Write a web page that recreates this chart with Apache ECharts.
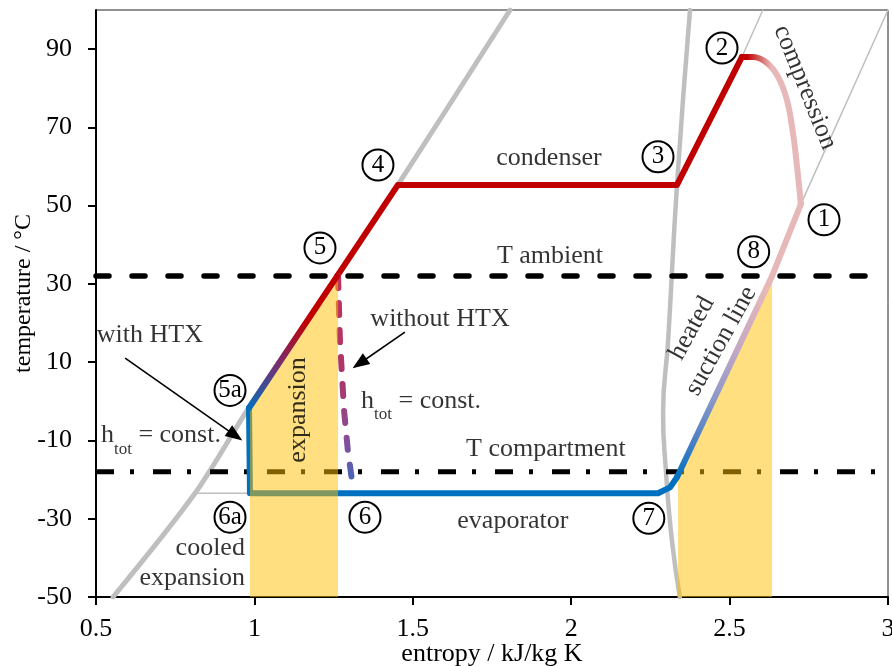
<!DOCTYPE html>
<html>
<head>
<meta charset="utf-8">
<script src="https://cdn.jsdelivr.net/npm/echarts@6/dist/echarts.min.js"></script>
<style>
  html, body { margin: 0; padding: 0; background: #fff; }
  #chart { width: 892px; height: 666px; }
</style>
</head>
<body>
<div id="chart"></div>
<script>
// T-s diagram of a refrigeration cycle (s in kJ/kg K, T in °C)

// saturation dome and auxiliary isolines
const liquidLine = [[0.554, -50], [0.8125, -23.5], [0.98, -1.9], [1.261, 32], [1.453, 55.3], [1.807, 100]];
const vaporLine = [[2.343, -50], [2.318, -35.6], [2.299, -17.7], [2.290, -3.1], [2.306, 15.6], [2.334, 55.3], [2.375, 100]];
const highIsobar = [[2.539, 88.0], [2.605, 100]];
const lowIsobar = [[2.725, 50.4], [3.0, 100]];
const evapIsotherm = [[0.8125, -23.5], [0.986, -23.5]];

// cycle with internal heat exchanger
const compression = [[2.725, 50.4], [2.713, 59.9], [2.700, 68.6], [2.681, 77.0], [2.653, 82.9], [2.618, 86.5], [2.574, 88.0], [2.539, 88.0]];
const condensation = [[2.539, 88.0], [2.334, 55.3], [1.453, 55.3], [1.261, 32]];
const precooling = [[1.261, 32], [0.983, -1.7]];
const evaporation = [[0.983, -1.7], [0.986, -23.5], [2.274, -23.5], [2.312, -22.0], [2.334, -19.4]];
const suctionLine = [[2.334, -19.4], [2.634, 32], [2.725, 50.4]];
// isenthalpic throttling without heat exchanger
const throttling = [[1.264, 32], [1.270, 15.6], [1.283, -2.3], [1.295, -12.6], [1.311, -21.9]];

// heat exchanged in the HTX
const expansionArea = [[0.986, -1.3], [1.264, 32.3]];
const suctionArea = [[2.337, -18.8], [2.634, 32]];

// boundary temperatures
const T_AMBIENT = 32;
const T_COMPARTMENT = -18;

// state points
const stateNames = ['1', '2', '3', '4', '5', '5a', '6', '6a', '7', '8'];
const statePos = [[2.798, 46.4], [2.476, 90.3], [2.274, 62.5], [1.390, 60.4], [1.207, 39.2],
                  [0.923, 2.8], [1.349, -29.6], [0.923, -29.6], [2.245, -29.9], [2.576, 38.2]];

// annotations: text, position, rotation
const noteTexts = ['condenser', 'T ambient', 'without HTX', 'with HTX', '{a|h}{s|tot}{a| = const.}',
                   '{a|h}{s|tot}{a| = const.}', 'expansion', 'T compartment', 'evaporator',
                   'compression', 'heated', 'suction line'];
const notePos = [[1.930, 62.2], [1.933, 37.0], [1.586, 21.0], [0.670, 16.9], [1.526, -1.0],
                 [0.705, -9.9], [1.138, -2.2], [1.920, -12.2], [1.816, -30.6],
                 [2.738, 80.2], [2.381, 18.7], [2.473, 15.4]];
const noteRotate = [0, 0, 0, 0, 0, 0, 90, 0, 0, -68, 61, 61];
const rightNotes = ['cooled', 'expansion'];
const rightNotePos = [[0.970, -37.5], [0.970, -45.2]];

// pointer arrows
const arrows = [[[0.592, 11.05], [0.940, -8.75]], [[1.475, 17.7], [1.332, 9.67]]];

const xTicks = [0.5, 1, 1.5, 2, 2.5, 3];
const yTicks = [-50, -30, -10, 10, 30, 50, 70, 90];

const FONT = 'Liberation Serif';
const RED = '#C00000';
const BLUE = '#0070C0';
const PINK = '#E6B9B8';
const GREY = '#BFBFBF';
const FILL = 'rgba(255,192,0,0.5)';

function vGrad(stops) {
  return { type: 'linear', x: 0, y: 0, x2: 0, y2: 1,
    colorStops: stops.map(s => ({ offset: s[0], color: s[1] })) };
}
function hGrad(stops) {
  return { type: 'linear', x: 0, y: 0, x2: 1, y2: 0,
    colorStops: stops.map(s => ({ offset: s[0], color: s[1] })) };
}
function curve(data, color, width, z, extra) {
  return Object.assign({
    type: 'line', data: data, symbol: 'none', z: z, silent: true,
    lineStyle: { color: color, width: width, cap: 'round', join: 'round' }
  }, extra || {});
}

const throttleColor = vGrad([[0, '#C3305A'], [0.5, '#A8386C'], [0.75, '#8A4C96'], [1, '#3A6CC0']]);

const chart = echarts.init(document.getElementById('chart'));
chart.setOption({
  animation: false,
  grid: { left: 96, right: 4, top: 10, bottom: 69, show: true, borderColor: '#222', borderWidth: 1,
          containLabel: false, outerBoundsMode: 'none' },
  xAxis: {
    type: 'value', min: 0.5, max: 3, interval: 0.5,
    name: 'entropy / kJ/kg K', nameLocation: 'middle', nameGap: 44, nameMoveOverlap: false,
    nameTextStyle: { fontFamily: FONT, fontSize: 26, color: '#000' },
    axisLine: { onZero: false, lineStyle: { color: '#000', width: 2 } },
    axisTick: { show: true, length: 8, lineStyle: { color: '#000', width: 2 }, customValues: xTicks },
    axisLabel: { fontFamily: FONT, fontSize: 26, color: '#000', margin: 19, customValues: xTicks },
    splitLine: { show: false }
  },
  yAxis: {
    type: 'value', min: -50, max: 100,
    name: 'temperature / °C', nameLocation: 'middle', nameGap: 60, nameMoveOverlap: false,
    nameTextStyle: { fontFamily: FONT, fontSize: 24, color: '#000', padding: [0, 0, 0, 20] },
    axisLine: { onZero: false, lineStyle: { color: '#000', width: 2 } },
    axisTick: { show: true, length: 8, lineStyle: { color: '#000', width: 2 }, customValues: yTicks },
    axisLabel: { fontFamily: FONT, fontSize: 26, color: '#000', margin: 24, customValues: yTicks },
    splitLine: { show: false }
  },
  series: [
    curve(liquidLine, GREY, 5, 1, { smooth: 0.3 }),
    curve(vaporLine, GREY, 4.5, 1, { smooth: 0.5 }),
    curve(highIsobar, GREY, 1.5, 1),
    curve(lowIsobar, GREY, 1.5, 1),
    curve(evapIsotherm, GREY, 1.5, 1),

    curve([[0.5, T_AMBIENT], [3, T_AMBIENT]], '#000', 5.5, 2,
      { lineStyle: { color: '#000', width: 5.5, cap: 'round', type: [13, 23] } }),
    curve([[0.5, T_COMPARTMENT], [3, T_COMPARTMENT]], '#000', 5, 2,
      { lineStyle: { color: '#000', width: 5, type: [18, 16, 4, 19] } }),

    curve(compression, hGrad([[0, RED], [0.12, RED], [0.5, PINK], [1, PINK]]), 6, 3, { smooth: 0.4 }),
    curve(condensation, RED, 6, 3),
    curve(evaporation, BLUE, 6, 3),
    curve(throttling, throttleColor, 6, 3,
      { lineStyle: { color: throttleColor, width: 6, cap: 'round', type: [12, 15] } }),

    curve(expansionArea, FILL, 0, 4, { areaStyle: { color: FILL, origin: 'start', opacity: 1 }, lineStyle: { width: 0 } }),
    curve(suctionArea, FILL, 0, 4, { areaStyle: { color: FILL, origin: 'start', opacity: 1 }, lineStyle: { width: 0 } }),

    curve(precooling, vGrad([[0, RED], [0.35, RED], [0.65, '#7B2C6E'], [1, BLUE]]), 6, 5),
    curve(suctionLine, vGrad([[0, PINK], [0.31, PINK], [0.53, '#C4A8C4'], [0.71, '#8A98C8'], [0.86, '#4A80C4'], [1, BLUE]]), 6, 5),

    {
      type: 'line', data: [], symbol: 'none', z: 5, silent: true,
      markLine: {
        silent: true, animation: false,
        symbol: ['none', 'triangle'], symbolSize: [13, 17],
        label: { show: false },
        lineStyle: { color: '#000', width: 1.6, type: 'solid' },
        data: arrows.map(a => [{ coord: a[0] }, { coord: a[1] }])
      }
    },

    {
      type: 'scatter', z: 6, silent: true,
      symbol: 'circle', symbolSize: 31,
      itemStyle: { color: '#fff', borderColor: '#000', borderWidth: 2, opacity: 1 },
      label: { show: true, position: 'inside', formatter: '{b}', fontFamily: FONT, fontSize: 25, color: '#000' },
      data: stateNames.map((n, i) => ({ name: n, value: statePos[i] }))
    },
    {
      type: 'scatter', z: 6, silent: true, symbolSize: 0,
      label: {
        show: true, position: 'inside', fontFamily: FONT, fontSize: 26, color: '#000',
        rich: {
          a: { fontFamily: FONT, fontSize: 26, color: '#000', verticalAlign: 'bottom', padding: [0, 0, 9, 0] },
          s: { fontFamily: FONT, fontSize: 17, color: '#000', verticalAlign: 'bottom' }
        }
      },
      data: noteTexts.map((t, i) => ({ value: notePos[i], label: { formatter: t, rotate: noteRotate[i] } }))
    },
    {
      type: 'scatter', z: 6, silent: true, symbolSize: 0,
      label: { show: true, position: 'left', distance: 0, fontFamily: FONT, fontSize: 26, color: '#000' },
      data: rightNotes.map((t, i) => ({ value: rightNotePos[i], label: { formatter: t } }))
    }
  ]
});
</script>
</body>
</html>
